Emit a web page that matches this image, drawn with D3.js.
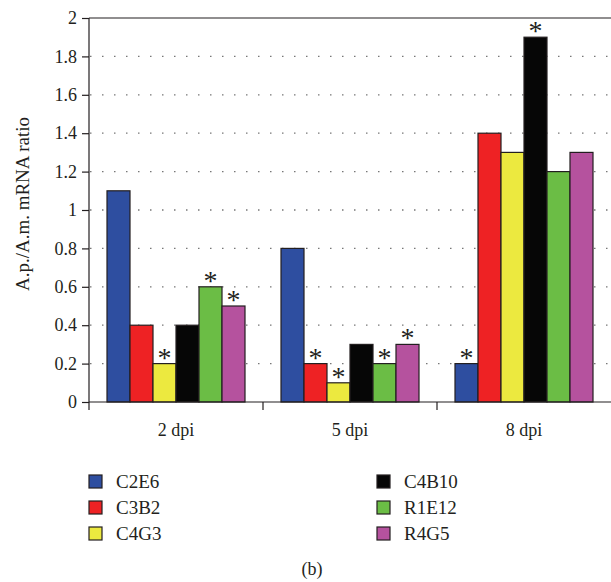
<!DOCTYPE html>
<html><head><meta charset="utf-8">
<script src="https://cdn.jsdelivr.net/npm/d3@7"></script>
<style>body{margin:0;background:#fff}svg{display:block}text{font-family:"Liberation Serif","DejaVu Serif",serif;fill:#231f20}</style>
</head><body>
<svg id="chart" width="611" height="582"></svg>
<script>
const categories = ["2 dpi", "5 dpi", "8 dpi"];
const seriesNames = ["C2E6", "C3B2", "C4G3", "C4B10", "R1E12", "R4G5"];
const seriesColors = ["#2e4ea0", "#ee2224", "#ece93f", "#060606", "#6bbd45", "#b5529e"];
const C2E6 = [1.1, 0.8, 0.2];
const C3B2 = [0.4, 0.2, 1.4];
const C4G3 = [0.2, 0.1, 1.3];
const C4B10 = [0.4, 0.3, 1.9];
const R1E12 = [0.6, 0.2, 1.2];
const R4G5 = [0.5, 0.3, 1.3];
// significance marks (1 = asterisk)
const sigC2E6 = [0, 0, 1];
const sigC3B2 = [0, 1, 0];
const sigC4G3 = [1, 1, 0];
const sigC4B10 = [0, 0, 1];
const sigR1E12 = [1, 1, 0];
const sigR4G5 = [1, 1, 0];
const yTicks = [0, 0.2, 0.4, 0.6, 0.8, 1, 1.2, 1.4, 1.6, 1.8, 2];
const yTitle = "A.p./A.m. mRNA ratio";
const caption = "(b)";

const values = [C2E6, C3B2, C4G3, C4B10, R1E12, R4G5];
const sigs = [sigC2E6, sigC3B2, sigC4G3, sigC4B10, sigR1E12, sigR4G5];

const svg = d3.select("#chart");
const mLeft = 89, mRight = 611, mTop = 18, mBottom = 402;

const x0 = d3.scaleBand().domain(categories).range([mLeft, mRight]).paddingInner(0).paddingOuter(0);
const x1 = d3.scaleBand().domain(seriesNames).range([18, x0.bandwidth() - 18]).padding(0);
const y = d3.scaleLinear().domain([0, 2]).range([mBottom, mTop]);

// grid
svg.append("g").selectAll("line").data(yTicks.filter(t => t > 0 && t < 2)).join("line")
  .attr("x1", mLeft + 1).attr("x2", mRight).attr("y1", d => y(d)).attr("y2", d => y(d))
  .attr("stroke", "#777").attr("stroke-width", 1.3).attr("stroke-dasharray", "1.5,10.5");

// top border
svg.append("line").attr("x1", mLeft).attr("x2", mRight).attr("y1", mTop).attr("y2", mTop)
  .attr("stroke", "#231f20").attr("stroke-width", 1.2);

// bars
const rows = (i) => seriesNames.map((s, j) => ({s, j, v: values[j][i], sig: sigs[j][i]}));
const groups = svg.append("g").selectAll("g").data(categories).join("g")
  .attr("transform", c => `translate(${x0(c)},0)`);
groups.selectAll("rect").data((c, i) => rows(i))
  .join("rect")
  .attr("x", d => x1(d.s)).attr("width", x1.bandwidth())
  .attr("y", d => y(d.v)).attr("height", d => y(0) - y(d.v))
  .attr("fill", d => seriesColors[d.j]).attr("stroke", "#231f20").attr("stroke-width", 1.2);
groups.selectAll("text").data((c, i) => rows(i).filter(d => d.sig))
  .join("text")
  .attr("x", d => x1(d.s) + x1.bandwidth() / 2).attr("y", d => y(d.v) + 3)
  .attr("text-anchor", "middle").attr("font-size", 28).text("*");

// y axis
const yAxis = d3.axisLeft(y).tickValues(yTicks).tickSize(7).tickPadding(5)
  .tickFormat(d => String(+d.toFixed(1)));
const ya = svg.append("g").attr("transform", `translate(${mLeft},0)`).call(yAxis);
ya.select(".domain").remove();
ya.selectAll("line").attr("stroke", "#231f20").attr("stroke-width", 1.2);
ya.selectAll("text").attr("font-size", 18).attr("font-family", "Liberation Serif").attr("fill", "#231f20");
svg.append("line").attr("x1", mLeft).attr("x2", mLeft).attr("y1", mTop).attr("y2", mBottom + 8)
  .attr("stroke", "#231f20").attr("stroke-width", 1.2);

// x axis
svg.append("line").attr("x1", mLeft).attr("x2", mRight).attr("y1", mBottom).attr("y2", mBottom)
  .attr("stroke", "#231f20").attr("stroke-width", 1.2);
svg.append("g").selectAll("line").data(categories.slice(1)).join("line")
  .attr("x1", c => x0(c)).attr("x2", c => x0(c)).attr("y1", mBottom).attr("y2", mBottom + 8)
  .attr("stroke", "#231f20").attr("stroke-width", 1.2);
svg.append("g").selectAll("text").data(categories).join("text")
  .attr("x", c => x0(c) + x0.bandwidth() / 2).attr("y", 436)
  .attr("text-anchor", "middle").attr("font-size", 18).text(c => c);

// y title
svg.append("text").attr("transform", "translate(29,204) rotate(-90)")
  .attr("text-anchor", "middle").attr("font-size", 19).text(yTitle);

// legend
const leg = svg.append("g").selectAll("g").data(seriesNames).join("g")
  .attr("transform", (s, i) => `translate(${i < 3 ? 89 : 377},${475 + (i % 3) * 26})`);
leg.append("rect").attr("width", 13).attr("height", 13)
  .attr("fill", (s, i) => seriesColors[i]).attr("stroke", "#231f20").attr("stroke-width", 1.2);
leg.append("text").attr("x", 27).attr("y", 13).attr("font-size", 19).text(s => s);

svg.append("text").attr("x", 312).attr("y", 575).attr("text-anchor", "middle")
  .attr("font-size", 18).text(caption);
</script>
</body></html>
